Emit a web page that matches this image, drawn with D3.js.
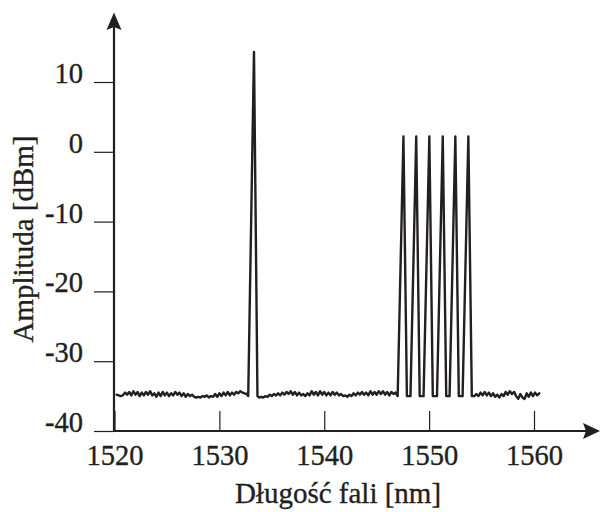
<!DOCTYPE html>
<html>
<head>
<meta charset="utf-8">
<script src="https://cdn.jsdelivr.net/npm/d3@7"></script>
<style>
  html, body { margin: 0; padding: 0; background: #fff; }
  svg { display: block; }
</style>
</head>
<body>
<script>
// Axis ticks
const yTicks = [-40, -30, -20, -10, 0, 10];
const xTicks = [1520, 1530, 1540, 1550, 1560];

// Noise floor of the optical spectrum, sampled every 0.2 nm (dBm)
const sweepStep = 0.2;
const floorAStart = 1520.2;
const floorA = [
  -34.8, -34.9, -35.0, -34.9, -34.5, -34.8, -34.4, -34.9, -34.3, -34.8,
  -34.4, -35.0, -34.5, -34.9, -34.4, -34.8, -34.3, -34.9, -34.6, -35.1,
  -34.5, -35.0, -34.4, -34.9, -34.5, -35.0, -34.6, -34.9, -34.4, -34.8,
  -34.5, -35.0, -34.6, -35.1, -34.7, -35.0, -34.8, -35.1, -35.2, -35.1,
  -35.2, -35.0, -35.1, -34.9, -35.2, -35.0, -35.1, -34.7, -35.1, -34.6,
  -35.0, -34.5, -34.9, -34.4, -34.9, -34.5, -34.8, -34.4, -34.6, -34.3,
  -34.5, -34.6, -34.7
];
const floorBStart = 1533.8;
const floorB = [
  -35.2, -35.1, -35.2, -35.0, -35.1, -34.8, -35.0, -34.7, -34.9, -34.6,
  -34.9, -34.5, -34.8, -34.4, -34.7, -34.3, -34.8, -34.4, -34.9, -34.5,
  -34.9, -34.7, -35.0, -34.6, -34.9, -34.3, -34.8, -34.4, -34.9, -34.3,
  -34.8, -34.4, -34.9, -34.5, -34.9, -34.4, -34.8, -34.5, -34.9, -34.7,
  -35.0, -34.9, -35.1, -34.8, -35.0, -34.6, -34.9, -34.5, -34.8, -34.4,
  -34.8, -34.5, -34.9, -34.3, -34.8, -34.4, -34.8, -34.3, -34.7, -34.3,
  -34.8, -34.4, -34.9, -34.4, -34.7, -34.5
];
const floorCStart = 1554.3;
const floorC = [
  -35.0, -34.7, -35.0, -34.5, -34.9, -34.4, -34.9, -34.5, -35.0, -34.6,
  -35.1, -34.8, -35.2, -34.7, -35.0, -34.4, -34.8, -34.3, -34.7, -34.4,
  -35.0, -35.4, -34.7, -35.2, -35.4, -34.6, -35.1, -34.5, -35.0, -34.5,
  -34.9, -34.6
];

// Laser lines: centre wavelength (nm) and peak level (dBm)
const peakCenters = [1533.30, 1547.55, 1548.77, 1550.02, 1551.30, 1552.50, 1553.74];
const peakLevels  = [14.3, 2.2, 2.2, 2.2, 2.2, 2.2, 2.2];
const peakFootLevel = -35.0;
const peakRise = 0.55;   // nm from left foot to the top
const peakFall = 0.33;   // nm from the top to the right foot

const W = 600, H = 512;
const ink = "#231f20";
const fontFamily = "'Liberation Serif', 'Times New Roman', serif";

const x = d3.scaleLinear().domain([1520, 1560]).range([114.5, 534]);
const y = d3.scaleLinear().domain([-40, 10]).range([431, 82]);

// Assemble the trace
const trace = [];
floorA.forEach((v, i) => trace.push([floorAStart + i * sweepStep, v]));
floorB.forEach((v, i) => trace.push([floorBStart + i * sweepStep, v]));
floorC.forEach((v, i) => trace.push([floorCStart + i * sweepStep, v]));
peakCenters.forEach((c, i) => {
  trace.push([c - peakRise, peakFootLevel]);
  trace.push([c, peakLevels[i]]);
  trace.push([c + peakFall, peakFootLevel]);
});
trace.sort((a, b) => a[0] - b[0]);

const svg = d3.select("body").append("svg")
  .attr("width", W).attr("height", H)
  .attr("viewBox", `0 0 ${W} ${H}`);

svg.append("rect").attr("width", W).attr("height", H).attr("fill", "#fff");

const x0 = x(1520) - 0.5;   // vertical axis position
const yBase = y(-40);       // horizontal axis position
const plainNumber = d => String(d);   // hyphen-minus, as in the printed figure

function styleText(sel, size) {
  sel.attr("fill", ink)
    .attr("stroke", ink)
    .attr("stroke-width", 0.35)
    .style("font-family", fontFamily)
    .style("font-size", size);
}

// Y axis: ticks pointing outward, labels sitting on the tick level
const yAxis = svg.append("g")
  .attr("transform", `translate(${x0},0)`)
  .call(d3.axisLeft(y).tickValues(yTicks).tickSize(20).tickPadding(11).tickFormat(plainNumber));
yAxis.select(".domain").remove();
yAxis.selectAll(".tick line").attr("stroke", ink).attr("stroke-width", 1.2);
yAxis.selectAll(".tick text").attr("dy", "0.02em").call(styleText, "28.5px");

// X axis: ticks pointing inward
const xAxis = svg.append("g")
  .attr("transform", `translate(0,${yBase})`)
  .call(d3.axisBottom(x).tickValues(xTicks).tickSize(-20).tickPadding(14).tickFormat(plainNumber));
xAxis.select(".domain").remove();
xAxis.selectAll(".tick line").attr("stroke", ink).attr("stroke-width", 1.2);
xAxis.selectAll(".tick text").call(styleText, "28.5px");

// Axis lines with arrow heads
svg.append("line")
  .attr("x1", x0).attr("y1", yBase + 1).attr("x2", x0).attr("y2", 22)
  .attr("stroke", ink).attr("stroke-width", 2.2);
svg.append("path")
  .attr("d", `M${x0},12.5 L${x0 + 7.5},30 L${x0},27 L${x0 - 7.5},30 Z`)
  .attr("fill", ink);

svg.append("line")
  .attr("x1", x0 - 1).attr("y1", yBase).attr("x2", 592).attr("y2", yBase)
  .attr("stroke", ink).attr("stroke-width", 2.2);
svg.append("path")
  .attr("d", `M600,${yBase} L583,${yBase - 8} L586,${yBase} L583,${yBase + 8} Z`)
  .attr("fill", ink);

// Spectrum trace
svg.append("path")
  .datum(trace)
  .attr("d", d3.line().x(d => x(d[0])).y(d => y(d[1])))
  .attr("fill", "none")
  .attr("stroke", ink)
  .attr("stroke-width", 2.4)
  .attr("stroke-linejoin", "round")
  .attr("stroke-linecap", "round");

// Axis titles
svg.append("text")
  .attr("x", 338).attr("y", 503)
  .attr("text-anchor", "middle")
  .call(styleText, "29px")
  .text("Długość fali [nm]");

svg.append("text")
  .attr("transform", "translate(33,239) rotate(-90)")
  .attr("text-anchor", "middle")
  .call(styleText, "29px")
  .text("Amplituda [dBm]");
</script>
</body>
</html>
